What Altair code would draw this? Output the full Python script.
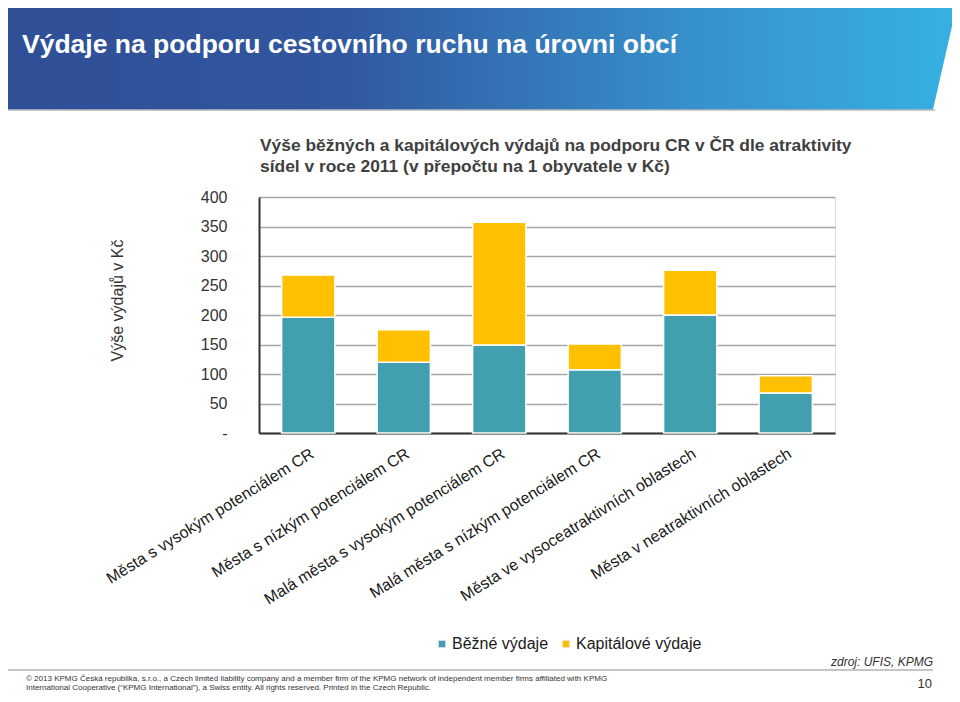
import altair as alt
import pandas as pd

# ---- data -------------------------------------------------------------
categories = [
    "Města s vysokým potenciálem CR",
    "Města s nízkým potenciálem CR",
    "Malá města s vysokým potenciálem CR",
    "Malá města s nízkým potenciálem CR",
    "Města ve vysoceatraktivních oblastech",
    "Města v neatraktivních oblastech",
]
series = ["Běžné výdaje", "Kapitálové výdaje"]
bezne_vydaje = [196, 120, 149, 107, 200, 68]
kapitalove_vydaje = [72, 55, 208, 44, 76, 29]
y_ticks = [0, 50, 100, 150, 200, 250, 300, 350, 400]

header_title = "Výdaje na podporu cestovního ruchu na úrovni obcí"
chart_title = [
    "Výše běžných a kapitálových výdajů na podporu CR v ČR dle atraktivity",
    "sídel v roce 2011 (v přepočtu na 1 obyvatele v Kč)",
]
y_title = "Výše výdajů v Kč"
source_text = "zdroj: UFIS, KPMG"
footer_lines = [
    "© 2013 KPMG Česká republika, s.r.o., a Czech limited liability company and a member firm of the KPMG network of independent member firms affiliated with KPMG",
    "International Cooperative (“KPMG International”), a Swiss entity. All rights reserved. Printed in the Czech Republic.",
]
page_number = "10"

rows = []
for i, c in enumerate(categories):
    rows.append({"cat": c, "typ": series[0], "val": bezne_vydaje[i], "ord": 0})
    rows.append({"cat": c, "typ": series[1], "val": kapitalove_vydaje[i], "ord": 1})
df = pd.DataFrame(rows)
one = pd.DataFrame({"a": [0]})

FONT = "Liberation Sans"
PAD_L, PAD_T, W, H = 251, 189, 576, 236
PAD_R = 944 - PAD_L - W
PAD_B = 686 - PAD_T - H

# ---- decorations -------------------------------------------------------
banner = alt.Chart(one).mark_rect(
    fill=alt.LinearGradient(
        gradient="linear",
        stops=[
            alt.GradientStop(color="#2f4f96", offset=0),
            alt.GradientStop(color="#3157a0", offset=0.35),
            alt.GradientStop(color="#3791cb", offset=0.72),
            alt.GradientStop(color="#36b1e2", offset=1),
        ],
        x1=0, x2=1, y1=0, y2=0,
    )
).encode(x=alt.value(-251), x2=alt.value(701), y=alt.value(-189), y2=alt.value(-87))

slant = alt.Chart(one).mark_rule(color="white", strokeWidth=30, strokeCap="butt").encode(
    x=alt.value(718), y=alt.value(-213), x2=alt.value(684), y2=alt.value(-64)
)

banner_line = alt.Chart(one).mark_rule(color="#b8b8b8", strokeWidth=1.5).encode(
    x=alt.value(-251), x2=alt.value(676), y=alt.value(-87)
)

banner_text = alt.Chart(one).mark_text(
    text=header_title, font=FONT, fontSize=26.5, fontWeight="bold",
    color="white", align="left", baseline="middle",
).encode(x=alt.value(-237), y=alt.value(-152))

title1 = alt.Chart(one).mark_text(
    text=chart_title[0], font=FONT, fontSize=17.4, fontWeight="bold", color="#404040",
    align="left", baseline="middle",
).encode(x=alt.value(1), y=alt.value(-51))
title2 = alt.Chart(one).mark_text(
    text=chart_title[1], font=FONT, fontSize=17.4, fontWeight="bold", color="#404040",
    align="left", baseline="middle",
).encode(x=alt.value(1), y=alt.value(-30))

source = alt.Chart(one).mark_text(
    text=source_text, font=FONT, fontSize=12, fontStyle="italic", color="#333333",
    align="right", baseline="middle",
).encode(x=alt.value(674), y=alt.value(465))

footer_rule = alt.Chart(one).mark_rule(color="#8c8c8c", strokeWidth=1).encode(
    x=alt.value(-251), x2=alt.value(674), y=alt.value(473)
)

foot1 = alt.Chart(one).mark_text(
    text=footer_lines[0], font=FONT, fontSize=8, color="#333333", align="left", baseline="middle"
).encode(x=alt.value(-233), y=alt.value(482))
foot2 = alt.Chart(one).mark_text(
    text=footer_lines[1], font=FONT, fontSize=8, color="#333333", align="left", baseline="middle"
).encode(x=alt.value(-233), y=alt.value(491))
pnum = alt.Chart(one).mark_text(
    text=page_number, font=FONT, fontSize=13, color="#333333", align="right", baseline="middle"
).encode(x=alt.value(673), y=alt.value(487))

# ---- bars --------------------------------------------------------------
bars = alt.Chart(df).mark_bar(stroke="white", strokeWidth=1.5).encode(
    x=alt.X(
        "cat:N", sort=categories, title=None,
        scale=alt.Scale(paddingInner=0.442, paddingOuter=0.237),
        axis=alt.Axis(
            labelAngle=-32, labelAlign="right", labelBaseline="top", labelFontSize=16,
            labelColor="#1a1a1a", labelFont=FONT, labelPadding=12, labelLimit=400,
            ticks=False, tickSize=0, domain=True, domainColor="#333333", domainWidth=2,
            grid=False,
        ),
    ),
    y=alt.Y(
        "val:Q", stack="zero",
        scale=alt.Scale(domain=[0, 400], nice=False),
        axis=alt.Axis(
            values=y_ticks, title=y_title, titleFont=FONT, titleFontSize=16,
            titleFontWeight="normal", titleColor="#333333", titleX=-142, titleY=103,
            titleAngle=-90, titleAlign="center", titleBaseline="middle",
            labelExpr="datum.value == 0 ? '-\u00a0\u00a0' : datum.label",
            labelFontSize=16, labelColor="#333333", labelFont=FONT, labelPadding=32,
            ticks=False, tickSize=0, domain=True, domainColor="#333333", domainWidth=2,
            grid=True, gridColor="#a6a6a6", gridWidth=1.5,
        ),
    ),
    color=alt.Color(
        "typ:N",
        scale=alt.Scale(domain=series, range=["#419fb0", "#ffc000"]),
        legend=alt.Legend(
            title=None, orient="none", legendX=175, legendY=439, direction="horizontal",
            symbolType="square", symbolSize=56, symbolStrokeColor="#e8e8e8",
            symbolStrokeWidth=1, labelFontSize=16, labelFont=FONT, labelColor="#1a1a1a",
            labelOffset=2, columnPadding=9,
        ),
    ),
    order=alt.Order("ord:Q"),
)

chart = alt.layer(
    banner, slant, banner_line, banner_text, title1, title2, bars,
    source, footer_rule, foot1, foot2, pnum,
).properties(
    width=W, height=H,
    autosize=alt.AutoSizeParams(type="none"),
    padding={"left": PAD_L, "top": PAD_T, "right": PAD_R, "bottom": PAD_B},
    background="white",
).configure_view(stroke=None).configure(font=FONT)

chart.save("out.html", embed_options={"renderer": "svg", "actions": False})
